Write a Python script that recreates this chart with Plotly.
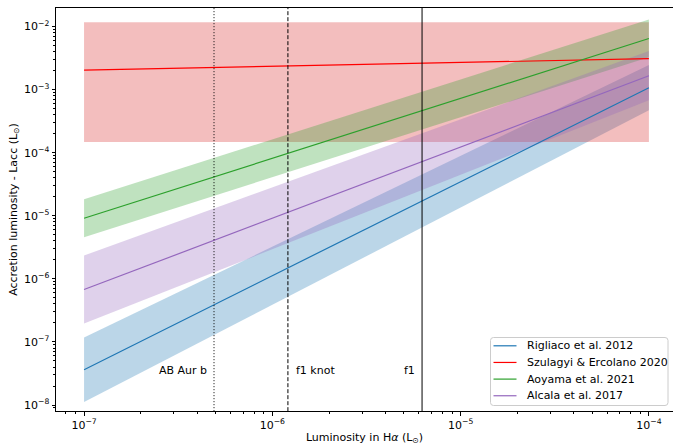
import math
import plotly.graph_objects as go

# ---- data ----
lha_ends = [1e-7, 1e-4]  # H-alpha luminosity span (L_sun)

rigliaco_mid = [3.63e-8, 1.07e-3]
rigliaco_low = [1.12e-8, 4.68e-4]
rigliaco_up = [1.17e-7, 2.45e-3]

szulagyi_mid = [2.04e-3, 3.09e-3]
szulagyi_low = [1.47e-4, 1.47e-4]
szulagyi_up = [1.17e-2, 1.17e-2]

aoyama_mid = [9.12e-6, 6.46e-3]
aoyama_low = [4.57e-6, 3.24e-3]
aoyama_up = [1.82e-5, 1.29e-2]

alcala_mid = [6.76e-7, 1.66e-3]
alcala_low = [1.95e-7, 6.76e-4]
alcala_up = [2.34e-6, 4.07e-3]

object_names = ["AB Aur b", "f1 knot", "f1"]
object_lha = [4.9e-7, 1.21e-6, 6.24e-6]
object_dash = ["1px,2px", "4px,2px", "solid"]
label_lacc = 3.5e-8

series = [
    ("Rigliaco et al. 2012", rigliaco_low, rigliaco_mid, rigliaco_up, "#1f77b4", "rgba(31,119,180,0.3)"),
    ("Szulagyi & Ercolano 2020", szulagyi_low, szulagyi_mid, szulagyi_up, "#ff0000", "rgba(214,39,40,0.3)"),
    ("Aoyama et al. 2021", aoyama_low, aoyama_mid, aoyama_up, "#2ca02c", "rgba(44,160,44,0.3)"),
    ("Alcala et al. 2017", alcala_low, alcala_mid, alcala_up, "#9467bd", "rgba(148,103,189,0.3)"),
]

FONT = "DejaVu Sans"
W, H = 673, 447
ML, MR, MT, MB = 56, 0, 8, 36
PW, PH = W - ML - MR, H - MT - MB

def px(xp):
    return (xp - ML) / PW

def py(yp):
    return (H - MB - yp) / PH

fig = go.Figure()

# bands
for name, lo, mid, up, col, fcol in series:
    fig.add_trace(go.Scatter(
        x=lha_ends + lha_ends[::-1], y=lo + up[::-1],
        fill="toself", fillcolor=fcol, line=dict(width=0),
        mode="lines", showlegend=False, hoverinfo="skip"))
# lines
for name, lo, mid, up, col, fcol in series:
    fig.add_trace(go.Scatter(
        x=lha_ends, y=mid, mode="lines", name=name, showlegend=False,
        line=dict(color=col, width=1.2)))

# vertical object markers
for nm, xv, dash in zip(object_names, object_lha, object_dash):
    fig.add_trace(go.Scatter(
        x=[xv, xv], y=[1e-10, 1], mode="lines", showlegend=False,
        line=dict(color="black", width=1, dash=dash), hoverinfo="skip"))

ann_y = math.log10(label_lacc)
annotations = [
    dict(x=math.log10(object_lha[0]) - 0.025, y=ann_y, text=object_names[0], xanchor="right"),
    dict(x=math.log10(object_lha[1]) + 0.03, y=ann_y, text=object_names[1], xanchor="left"),
    dict(x=math.log10(object_lha[2]) - 0.025, y=ann_y, text=object_names[2], xanchor="right"),
]
for a in annotations:
    a.update(xref="x", yref="y", showarrow=False, yanchor="middle",
             font=dict(family=FONT, size=11, color="black"))

# legend (matplotlib-style box)
shapes = []
bx0, bx1, by0, by1, r = 490.5, 668, 337.5, 405.5, 3
path = (f"M {px(bx0 + r)} {py(by0)} L {px(bx1 - r)} {py(by0)} Q {px(bx1)} {py(by0)} {px(bx1)} {py(by0 + r)} "
        f"L {px(bx1)} {py(by1 - r)} Q {px(bx1)} {py(by1)} {px(bx1 - r)} {py(by1)} "
        f"L {px(bx0 + r)} {py(by1)} Q {px(bx0)} {py(by1)} {px(bx0)} {py(by1 - r)} "
        f"L {px(bx0)} {py(by0 + r)} Q {px(bx0)} {py(by0)} {px(bx0 + r)} {py(by0)} Z")
shapes.append(dict(type="path", path=path, xref="paper", yref="paper",
                   fillcolor="rgba(255,255,255,0.8)", line=dict(color="#cccccc", width=1), layer="above"))
row0, dy = 345.8, 16.65
for i, (name, lo, mid, up, col, fcol) in enumerate(series):
    yy = row0 + i * dy
    shapes.append(dict(type="line", xref="paper", yref="paper", x0=px(493.5), x1=px(516.5),
                       y0=py(yy), y1=py(yy), line=dict(color=col, width=1.2), layer="above"))
    annotations.append(dict(xref="paper", yref="paper", x=px(524.5), y=py(yy), text=name,
                            showarrow=False, xanchor="left", yanchor="middle",
                            font=dict(family=FONT, size=11, color="black")))

xt = [1e-7, 1e-6, 1e-5, 1e-4]
xtt = ["10<sup>−7</sup>", "10<sup>−6</sup>", "10<sup>−5</sup>", "10<sup>−4</sup>"]
yt = [1e-8, 1e-7, 1e-6, 1e-5, 1e-4, 1e-3, 1e-2]
ytt = ["10<sup>−%d</sup>" % k for k in range(8, 1, -1)]

def minors(lo, hi):
    out = []
    for e in range(lo, hi):
        for m in range(2, 10):
            out.append(m * 10.0 ** e)
    return out

fig.update_layout(
    width=W, height=H,
    margin=dict(l=ML, r=MR, t=MT, b=MB, autoexpand=False),
    plot_bgcolor="white", paper_bgcolor="white",
    font=dict(family=FONT, size=11, color="black"),
    annotations=annotations, shapes=shapes,
    showlegend=False,
    xaxis=dict(type="log", range=[-7.149, -3.872], showgrid=False, zeroline=False,
               automargin=False,
               showline=True, linecolor="black", linewidth=1, mirror=True,
               ticks="outside", ticklen=3.5, tickcolor="black",
               tickvals=xt, ticktext=xtt, tickfont=dict(size=11),
               minor=dict(tickvals=minors(-8, -3), ticks="outside", ticklen=2, tickcolor="black", showgrid=False),
               title=dict(text="Luminosity in H<i>α</i> (L<sub>⊙</sub>)", standoff=2, font=dict(size=11))),
    yaxis=dict(type="log", range=[-8.095, -1.707], showgrid=False, zeroline=False,
               automargin=False,
               showline=True, linecolor="black", linewidth=1, mirror=False,
               ticks="outside", ticklen=3.5, tickcolor="black",
               tickvals=yt, ticktext=ytt, tickfont=dict(size=11),
               minor=dict(tickvals=minors(-9, -1), ticks="outside", ticklen=2, tickcolor="black", showgrid=False),
               title=dict(text="Accretion luminosity - Lacc (L<sub>⊙</sub>)", standoff=4, font=dict(size=11))),
)

fig.write_html("out.html", config={"displayModeBar": False},
               post_script="document.body.style.margin='0';")
